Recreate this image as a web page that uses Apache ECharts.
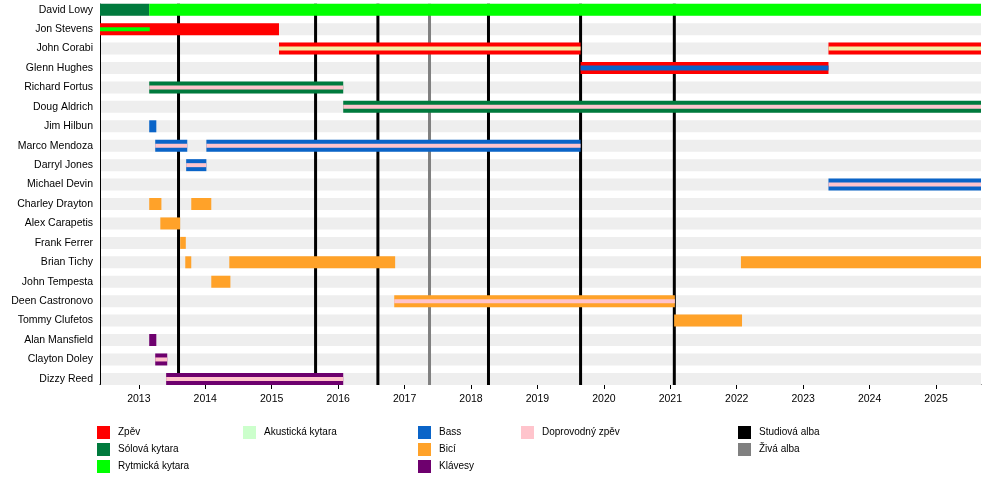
<!DOCTYPE html>
<html>
<head>
<meta charset="utf-8">
<script src="https://cdn.jsdelivr.net/npm/echarts@6/dist/echarts.min.js"></script>
<style>
html,body{margin:0;padding:0;background:#fff;}
#chart{width:1000px;height:483px;}
</style>
</head>
<body>
<div id="chart"></div>
<script>
// ---- data ----
const members = ["David Lowy","Jon Stevens","John Corabi","Glenn Hughes","Richard Fortus","Doug Aldrich","Jim Hilbun","Marco Mendoza","Darryl Jones","Michael Devin","Charley Drayton","Alex Carapetis","Frank Ferrer","Brian Tichy","John Tempesta","Deen Castronovo","Tommy Clufetos","Alan Mansfield","Clayton Doley","Dizzy Reed"];
const START = "2012-06-01";
const END = "2025-09-05";
const yearTicks = [2013,2014,2015,2016,2017,2018,2019,2020,2021,2022,2023,2024,2025];

const leadVocals = [
  ["Jon Stevens", START, "2015-02-10"],
  ["John Corabi", "2015-02-10", "2019-08-26"],
  ["Glenn Hughes", "2019-08-26", "2023-05-20"],
  ["John Corabi", "2023-05-20", END]
];
const leadGuitar = [
  ["David Lowy", START, "2013-02-27"],
  ["Richard Fortus", "2013-02-27", "2016-01-29"],
  ["Doug Aldrich", "2016-01-29", END]
];
const rhythmGuitar = [
  ["David Lowy", "2013-02-27", END]
];
const rhythmGuitarSecondary = [
  ["Jon Stevens", START, "2013-03-02"]
];
const acousticGuitarSecondary = [
  ["John Corabi", "2015-02-10", "2019-08-26"],
  ["John Corabi", "2023-05-20", END]
];
const bass = [
  ["Jim Hilbun", "2013-02-27", "2013-04-07"],
  ["Marco Mendoza", "2013-04-01", "2013-09-24"],
  ["Darryl Jones", "2013-09-18", "2014-01-07"],
  ["Marco Mendoza", "2014-01-07", "2019-08-26"],
  ["Michael Devin", "2023-05-20", END]
];
const bassSecondary = [
  ["Glenn Hughes", "2019-08-26", "2023-05-20"]
];
const drums = [
  ["Charley Drayton", "2013-02-27", "2013-05-05"],
  ["Alex Carapetis", "2013-04-29", "2013-08-16"],
  ["Frank Ferrer", "2013-08-16", "2013-09-16"],
  ["Brian Tichy", "2013-09-13", "2013-10-16"],
  ["Charley Drayton", "2013-10-16", "2014-02-03"],
  ["John Tempesta", "2014-02-03", "2014-05-19"],
  ["Brian Tichy", "2014-05-13", "2016-11-10"],
  ["Deen Castronovo", "2016-11-05", "2021-01-26"],
  ["Tommy Clufetos", "2021-01-22", "2022-01-30"],
  ["Brian Tichy", "2022-01-24", END]
];
const keyboards = [
  ["Alan Mansfield", "2013-02-27", "2013-04-07"],
  ["Clayton Doley", "2013-04-01", "2013-06-06"],
  ["Dizzy Reed", "2013-05-31", "2016-01-29"]
];
const backingVocals = [
  ["Richard Fortus", "2013-02-27", "2016-01-29"],
  ["Doug Aldrich", "2016-01-29", END],
  ["Marco Mendoza", "2013-04-01", "2013-09-24"],
  ["Marco Mendoza", "2014-01-07", "2019-08-26"],
  ["Darryl Jones", "2013-09-18", "2014-01-07"],
  ["Michael Devin", "2023-05-20", END],
  ["Deen Castronovo", "2016-11-05", "2021-01-26"],
  ["Clayton Doley", "2013-04-01", "2013-06-06"],
  ["Dizzy Reed", "2013-05-31", "2016-01-29"]
];
const studioAlbums = ["2013-08-07","2015-08-30","2016-08-07","2018-04-07","2019-08-26","2021-01-23"];
const liveAlbums = ["2017-05-18"];

// ---- helpers ----
function toYear(s){
  const p = s.split('-').map(Number);
  const t = Date.UTC(p[0], p[1]-1, p[2]);
  const a = Date.UTC(p[0], 0, 1), b = Date.UTC(p[0]+1, 0, 1);
  return p[0] + (t - a) / (b - a);
}
const X_MIN = toYear(START), X_MAX = toYear(END);
const BAR_H = 12, STRIPE_H = 4;
const FONT = "'Liberation Sans', Arial, sans-serif";

function barSeries(name, color, list, thick, fill){
  return {
    type: 'custom', name: name, itemStyle: {color: color},
    encode: {x: [1, 2], y: 0},
    data: list.map(r => [members.indexOf(r[0]), toYear(r[1]), toYear(r[2])]),
    renderItem: function(params, api){
      const row = api.value(0);
      const p1 = api.coord([api.value(1), row]);
      const p2 = api.coord([api.value(2), row]);
      return {type: 'rect', shape: {x: p1[0], y: p1[1] - thick/2, width: p2[0] - p1[0], height: thick},
              style: {fill: fill || color}};
    }
  };
}
function lineSeries(name, color, dates, width){
  return {
    type: 'custom', name: name, itemStyle: {color: color},
    encode: {x: 0},
    data: dates.map(d => [toYear(d)]),
    renderItem: function(params, api){
      const top = api.coord([api.value(0), 0]);
      const bot = api.coord([api.value(0), members.length - 1]);
      return {type: 'line', shape: {x1: top[0], y1: top[1] - BAR_H/2, x2: bot[0], y2: bot[1] + BAR_H/2},
              style: {stroke: color, lineWidth: width}};
    }
  };
}
const bgSeries = {
  type: 'custom', name: 'bg', silent: true,
  encode: {y: 0},
  data: members.map((m, i) => [i]),
  renderItem: function(params, api){
    const p1 = api.coord([X_MIN, api.value(0)]);
    const p2 = api.coord([X_MAX, api.value(0)]);
    return {type: 'rect', shape: {x: p1[0], y: p1[1] - BAR_H/2, width: p2[0] - p1[0], height: BAR_H},
            style: {fill: '#eeeeee'}};
  }
};
const leftAxisSeries = {
  type: 'custom', name: 'axis', silent: true,
  data: [[0]],
  renderItem: function(params, api){
    const top = api.coord([X_MIN, 0]);
    const bot = api.coord([X_MIN, members.length - 1]);
    return {type: 'line', shape: {x1: top[0] + 0.5, y1: top[1] - BAR_H/2, x2: top[0] + 0.5, y2: bot[1] + BAR_H/2},
            style: {stroke: '#000', lineWidth: 1}};
  }
};

const C = {
  vocals: '#ff0000', lead: '#007a3d', rhythm: '#00ff00', acoustic: '#ccffcc',
  bass: '#0a64c8', drums: '#ffa229', keys: '#6e006e', backing: '#ffc4cc',
  studio: '#000000', live: '#808080'
};

function legendCol(left, names){
  return {
    left: left, top: 426, orient: 'vertical', icon: 'rect', padding: 0,
    itemWidth: 13, itemHeight: 13, itemGap: 4, selectedMode: false,
    textStyle: {fontSize: 10, color: '#000', fontFamily: FONT, padding: [0, 0, 0, 3]},
    data: names
  };
}

const option = {
  animation: false,
  backgroundColor: '#fff',
  grid: {left: 100, right: 19, top: 0, height: 388.6},
  xAxis: {
    type: 'value', min: X_MIN, max: X_MAX, offset: -4.6,
    splitLine: {show: false},
    axisLine: {show: true, lineStyle: {color: '#000', width: 1}},
    axisTick: {show: true, customValues: yearTicks, length: 5, lineStyle: {color: '#000'}},
    axisLabel: {customValues: yearTicks, formatter: v => String(Math.round(v)),
                fontSize: 10.5, color: '#000', fontFamily: FONT, margin: 10}
  },
  yAxis: {
    type: 'category', inverse: true, data: members,
    axisLine: {show: false}, axisTick: {show: false},
    axisLabel: {fontSize: 10.5, color: '#000', fontFamily: FONT, margin: 7, padding: [2, 0, 0, 0]}
  },
  legend: [
    legendCol(97, ['Zpěv', 'Sólová kytara', 'Rytmická kytara']),
    legendCol(243, ['Akustická kytara']),
    legendCol(418, ['Bass', 'Bicí', 'Klávesy']),
    legendCol(521, ['Doprovodný zpěv']),
    legendCol(738, ['Studiová alba', 'Živá alba'])
  ],
  series: [
    bgSeries,
    leftAxisSeries,
    lineSeries('Studiová alba', C.studio, studioAlbums, 3),
    lineSeries('Živá alba', C.live, liveAlbums, 3),
    barSeries('Zpěv', C.vocals, leadVocals, BAR_H),
    barSeries('Sólová kytara', C.lead, leadGuitar, BAR_H),
    barSeries('Rytmická kytara', C.rhythm, rhythmGuitar, BAR_H),
    barSeries('Bass', C.bass, bass, BAR_H),
    barSeries('Bicí', C.drums, drums, BAR_H),
    barSeries('Klávesy', C.keys, keyboards, BAR_H),
    barSeries('Rytmická kytara', C.rhythm, rhythmGuitarSecondary, STRIPE_H),
    barSeries('Akustická kytara', C.acoustic, acousticGuitarSecondary, STRIPE_H, '#f4eca5'),
    barSeries('Bass', C.bass, bassSecondary, 5),
    barSeries('Doprovodný zpěv', C.backing, backingVocals, STRIPE_H)
  ]
};

const chart = echarts.init(document.getElementById('chart'), null, {renderer: 'canvas'});
chart.setOption(option);
</script>
</body>
</html>
